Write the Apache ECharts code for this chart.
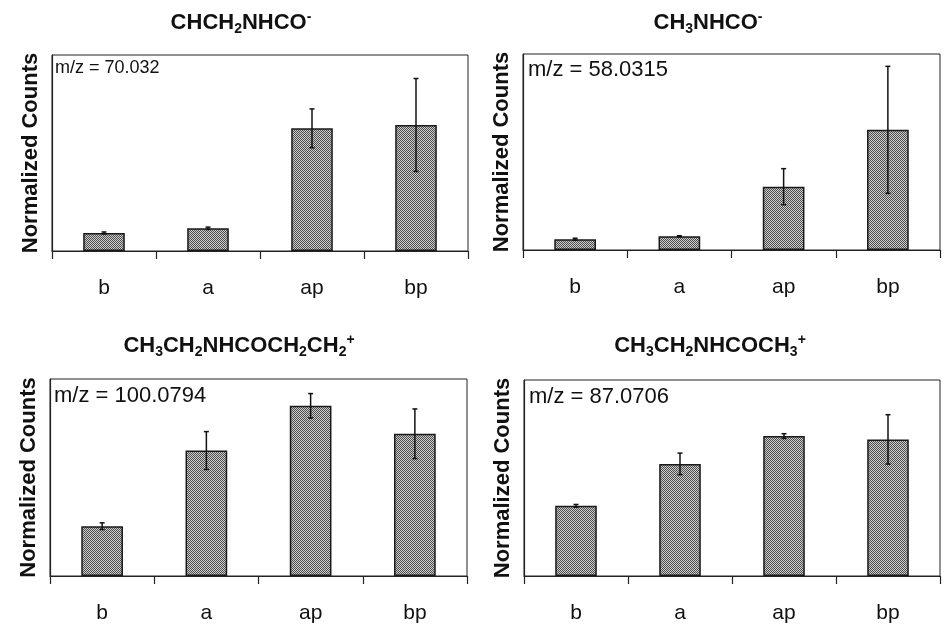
<!DOCTYPE html>
<html>
<head>
<meta charset="utf-8">
<script src="https://cdn.jsdelivr.net/npm/echarts@6/dist/echarts.min.js"></script>
<style>
  html, body { margin: 0; padding: 0; background: #fff; }
  #chart { width: 950px; height: 631px; }
</style>
</head>
<body>
<div id="chart"></div>
<script>
// categories shared by all four panels
var categories = ['b', 'a', 'ap', 'bp'];

// panel values (normalized, axis 0..100) and error half-widths
var p1Values = [9.2, 11.6, 62.6, 64.3];
var p1Errors = [0.5, 0.6, 9.9, 23.7];
var p2Values = [5.5, 7.0, 32.3, 61.3];
var p2Errors = [0.5, 0.3, 9.2, 32.4];
var p3Values = [25.3, 63.7, 86.4, 72.2];
var p3Errors = [1.7, 9.6, 6.2, 12.6];
var p4Values = [35.8, 57.2, 71.4, 69.7];
var p4Errors = [0.7, 5.5, 1.2, 12.6];

var mzLabels = ['m/z = 70.032', 'm/z = 58.0315', 'm/z = 100.0794', 'm/z = 87.0706'];

var FONT = 'Liberation Sans, Arial, sans-serif';

// checkered grey fill like the original print
function makePattern() {
  var c = document.createElement('canvas');
  c.width = 2; c.height = 2;
  var ctx = c.getContext('2d');
  ctx.fillStyle = '#cdcdcd';
  ctx.fillRect(0, 0, 2, 2);
  ctx.fillStyle = '#4e4e4e';
  ctx.fillRect(0, 0, 1, 1);
  ctx.fillRect(1, 1, 1, 1);
  return c;
}
var pattern = makePattern();

var grids = [
  { left: 52, top: 55, width: 416, height: 196 },
  { left: 523, top: 54, width: 417, height: 196 },
  { left: 50, top: 379, width: 417, height: 197 },
  { left: 524, top: 380, width: 416, height: 196 }
];

var allValues = [p1Values, p2Values, p3Values, p4Values];
var allErrors = [p1Errors, p2Errors, p3Errors, p4Errors];

var richStyles = {
  n: { fontSize: 22, fontWeight: 'bold', fontFamily: FONT, lineHeight: 26, verticalAlign: 'middle', fill: '#111' },
  s: { fontSize: 14, fontWeight: 'bold', fontFamily: FONT, lineHeight: 14, verticalAlign: 'bottom', fill: '#111' },
  p: { fontSize: 14, fontWeight: 'bold', fontFamily: FONT, lineHeight: 14, verticalAlign: 'top', fill: '#111' }
};

var titles = [
  { text: '{n|CHCH}{s|2}{n|NHCO}{p|-}', x: 241, y: 23 },
  { text: '{n|CH}{s|3}{n|NHCO}{p|-}', x: 708, y: 23 },
  { text: '{n|CH}{s|3}{n|CH}{s|2}{n|NHCOCH}{s|2}{n|CH}{s|2}{p|+}', x: 239, y: 346 },
  { text: '{n|CH}{s|3}{n|CH}{s|2}{n|NHCOCH}{s|3}{p|+}', x: 710, y: 346 }
];

var mzPos = [
  { x: 55, y: 68, size: 18 },
  { x: 528, y: 70, size: 22 },
  { x: 54, y: 396, size: 22 },
  { x: 529, y: 397, size: 22 }
];

var graphics = [];
titles.forEach(function (t) {
  graphics.push({
    type: 'text', x: t.x, y: t.y,
    style: { text: t.text, rich: richStyles, align: 'center', verticalAlign: 'middle' }
  });
});
mzPos.forEach(function (m, i) {
  graphics.push({
    type: 'text', x: m.x, y: m.y, z: 10,
    style: {
      text: mzLabels[i], fontSize: m.size, fontFamily: FONT, fill: '#111',
      align: 'left', verticalAlign: 'middle'
    }
  });
});

var xAxes = [], yAxes = [], series = [];
grids.forEach(function (g, i) {
  g.show = true;
  g.borderColor = '#222';
  g.borderWidth = 1;
  g.backgroundColor = '#fff';
  xAxes.push({
    type: 'category', gridIndex: i, data: categories, boundaryGap: true,
    axisLine: { lineStyle: { color: '#222', width: 1.2 } },
    axisTick: { show: true, length: 8, lineStyle: { color: '#222', width: 1.2 } },
    axisLabel: { fontSize: 21, fontFamily: FONT, color: '#111', margin: 27 },
    splitLine: { show: false }
  });
  yAxes.push({
    type: 'value', gridIndex: i, min: 0, max: 100,
    name: 'Normalized Counts', nameLocation: 'middle', nameGap: 10,
    nameTextStyle: { fontSize: 22, fontWeight: 'bold', fontFamily: FONT, color: '#111' },
    axisLine: { show: true, lineStyle: { color: '#222', width: 1.2 } },
    axisTick: { show: false }, axisLabel: { show: false }, splitLine: { show: false }
  });
  series.push({
    type: 'bar', xAxisIndex: i, yAxisIndex: i, barWidth: '40%',
    data: allValues[i],
    itemStyle: {
      color: { image: pattern, repeat: 'repeat' },
      borderColor: '#1a1a1a', borderWidth: 1.5
    },
    silent: true
  });
  var errData = allValues[i].map(function (v, k) {
    return [k, v - allErrors[i][k], v + allErrors[i][k]];
  });
  series.push({
    type: 'custom', xAxisIndex: i, yAxisIndex: i, data: errData, z: 5, silent: true,
    renderItem: function (params, api) {
      var lo = api.coord([api.value(0), api.value(1)]);
      var hi = api.coord([api.value(0), api.value(2)]);
      var cap = 2.5;
      var st = { stroke: '#111', lineWidth: 1.5 };
      return {
        type: 'group',
        children: [
          { type: 'line', shape: { x1: lo[0], y1: lo[1], x2: hi[0], y2: hi[1] }, style: st },
          { type: 'line', shape: { x1: lo[0] - cap, y1: lo[1], x2: lo[0] + cap, y2: lo[1] }, style: st },
          { type: 'line', shape: { x1: hi[0] - cap, y1: hi[1], x2: hi[0] + cap, y2: hi[1] }, style: st }
        ]
      };
    }
  });
});

var chart = echarts.init(document.getElementById('chart'));
chart.setOption({
  backgroundColor: '#fff',
  animation: false,
  grid: grids,
  xAxis: xAxes,
  yAxis: yAxes,
  series: series,
  graphic: graphics
});
</script>
</body>
</html>
